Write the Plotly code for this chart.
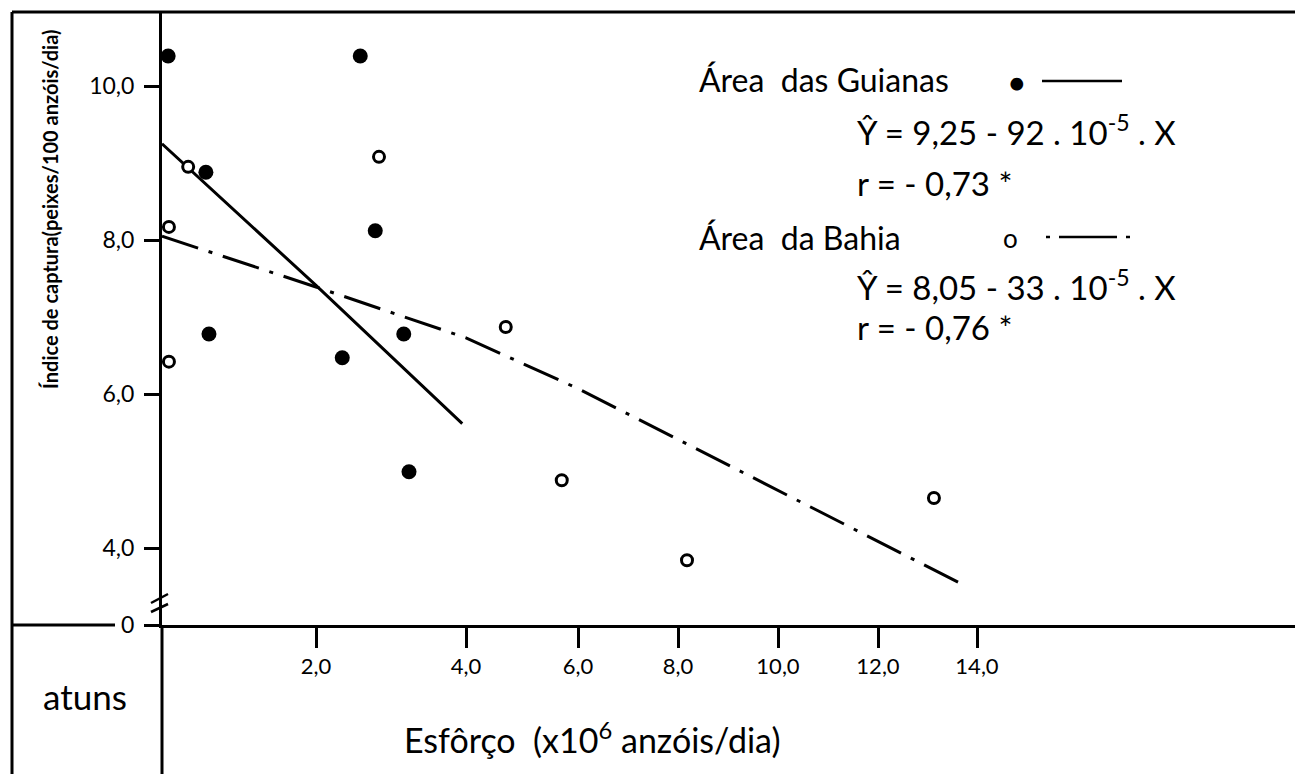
import numpy as np
import plotly.graph_objects as go

# ---------------- data ----------------
guianas_x = [0.08, 2.59, 0.57, 2.79, 0.61, 2.35, 3.17, 3.24]
guianas_y = [10.39, 10.39, 8.88, 8.12, 6.78, 6.47, 6.78, 4.99]

bahia_x = [0.09, 0.34, 2.84, 0.09, 4.71, 5.71, 8.18, 13.13]
bahia_y = [8.17, 8.95, 9.08, 6.42, 6.87, 4.88, 3.84, 4.65]

# regression lines: Y = a - b.X over the fitted range
guianas_a, guianas_b, guianas_xrange = 9.25, 0.92, [0.0, 3.95]
bahia_a, bahia_b, bahia_xrange = 8.05, 0.33, [0.0, 13.68]

x_ticks = [2, 4, 6, 8, 10, 12, 14]
x_ticklabels = ["2,0", "4,0", "6,0", "8,0", "10,0", "12,0", "14,0"]
y_ticks = [3, 4, 6, 8, 10]
y_ticklabels = ["0", "4,0", "6,0", "8,0", "10,0"]

# ---------------- axis scale of the original drawing ----------------
# the printed x axis is not uniform: piecewise-linear scale (value -> drawing units)
SCALE_VALUES = [0, 2, 4, 6, 8, 10, 12, 14]
SCALE_UNITS = [0, 154, 304, 416, 516, 616, 716, 815]


def xs(v):
    v = np.asarray(v, dtype=float)
    out = np.interp(v, SCALE_VALUES, SCALE_UNITS)
    slope = (SCALE_UNITS[-1] - SCALE_UNITS[-2]) / (SCALE_VALUES[-1] - SCALE_VALUES[-2])
    return np.where(v > SCALE_VALUES[-1],
                    SCALE_UNITS[-1] + (v - SCALE_VALUES[-1]) * slope, out)


def reg_line(a, b, xr):
    pts = [xr[0]] + [k for k in SCALE_VALUES if xr[0] < k < xr[1]] + [xr[1]]
    pts = np.array(pts, dtype=float)
    return xs(pts), a - b * pts


# ---------------- layout geometry ----------------
W, H = 1295, 774
L, R, T, B = 162, 1295, 12, 625
FONT = "Lato"


def px(xp):
    return (xp - L) / (R - L)


def py(yp):
    return (B - yp) / (B - T)


fig = go.Figure()

gx, gy = reg_line(guianas_a, guianas_b, guianas_xrange)
fig.add_trace(go.Scatter(
    x=gx, y=gy, mode="lines", line=dict(color="black", width=3),
    showlegend=False, hoverinfo="skip"))
bx, by = reg_line(bahia_a, bahia_b, bahia_xrange)
fig.add_trace(go.Scatter(
    x=bx, y=by, mode="lines",
    line=dict(color="black", width=3, dash="38px,11px,4px,11px"),
    showlegend=False, hoverinfo="skip"))
fig.add_trace(go.Scatter(
    x=xs(guianas_x), y=guianas_y, mode="markers", cliponaxis=False,
    marker=dict(size=15, color="black"), showlegend=False))
fig.add_trace(go.Scatter(
    x=xs(bahia_x), y=bahia_y, mode="markers", cliponaxis=False,
    marker=dict(size=11, color="white", symbol="circle",
                line=dict(color="black", width=3)), showlegend=False))

fig.update_xaxes(
    range=[0, R - L], showgrid=False, zeroline=False,
    showline=True, linecolor="black", linewidth=3,
    tickvals=xs(x_ticks), ticktext=x_ticklabels, ticks="outside", ticklen=20,
    tickwidth=3, tickcolor="black",
    tickfont=dict(family=FONT, size=22, color="black"))
fig.update_yaxes(
    range=[3.0, 3.0 + (B - T) / 77.0], showgrid=False, zeroline=False,
    showline=True, linecolor="black", linewidth=3,
    tickvals=y_ticks, ticktext=y_ticklabels, ticks="outside", ticklen=15,
    tickwidth=3, tickcolor="black", ticklabelstandoff=5,
    tickfont=dict(family=FONT, size=23, color="black"))

shapes = []
line = dict(color="black", width=3)
# outer frame: top and left
shapes.append(dict(type="line", xref="paper", yref="paper",
                   x0=px(12), x1=1.0, y0=py(12), y1=py(12), line=line))
shapes.append(dict(type="line", xref="paper", yref="paper",
                   x0=px(12), x1=px(12), y0=py(12), y1=py(774), line=line))
# baseline left of "0"
shapes.append(dict(type="line", xref="paper", yref="paper",
                   x0=px(12), x1=px(115), y0=py(625), y1=py(625), line=line))
# y-axis continuing below the x axis
shapes.append(dict(type="line", xref="paper", yref="paper",
                   x0=0, x1=0, y0=py(625), y1=py(774), line=line))
# axis break marks
shapes.append(dict(type="line", xref="paper", yref="paper",
                   x0=px(151), x1=px(168), y0=py(603), y1=py(594),
                   line=dict(color="black", width=2.5)))
shapes.append(dict(type="line", xref="paper", yref="paper",
                   x0=px(151), x1=px(168), y0=py(612), y1=py(604),
                   line=dict(color="black", width=2.5)))
# legend line samples
shapes.append(dict(type="line", xref="paper", yref="paper",
                   x0=px(1042), x1=px(1122), y0=py(81), y1=py(81),
                   line=dict(color="black", width=2.5)))
shapes.append(dict(type="line", xref="paper", yref="paper",
                   x0=px(1046), x1=px(1130), y0=py(237), y1=py(237),
                   line=dict(color="black", width=2.5,
                             dash="4px,9px,58px,9px")))

ann = []


def text(xp, yp, s, size, anchor="left", angle=0, weight="normal"):
    ann.append(dict(x=px(xp), y=py(yp), xref="paper", yref="paper",
                    text=s, showarrow=False, xanchor=anchor, yanchor="middle",
                    textangle=angle,
                    font=dict(family=FONT, size=size, color="black",
                              weight=weight)))


text(50, 210, "Índice de captura(peixes/100 anzóis/dia)", 20, "center", -90,
     "bold")
text(592, 738, "Esfôrço  (x10<sup>6</sup> anzóis/dia)", 34, "center")
text(85, 696, "atuns", 35, "center")

text(697, 80, "Área  das Guianas", 32)
text(1017, 82, "●", 26, "center")
text(855, 130, "Ŷ = 9,25 - 92 . 10<sup>-5</sup> . X", 33)
text(855, 183, "r = - 0,73 *", 33)
text(697, 237, "Área  da Bahia", 32)
text(1010, 238, "o", 26, "center")
text(855, 285, "Ŷ = 8,05 - 33 . 10<sup>-5</sup> . X", 33)
text(855, 327, "r = - 0,76 *", 33)

fig.update_layout(
    width=W, height=H, autosize=False,
    margin=dict(l=L, r=W - R, t=T, b=H - B),
    paper_bgcolor="white", plot_bgcolor="white",
    shapes=shapes, annotations=ann, showlegend=False)

fig.write_html("out.html")
